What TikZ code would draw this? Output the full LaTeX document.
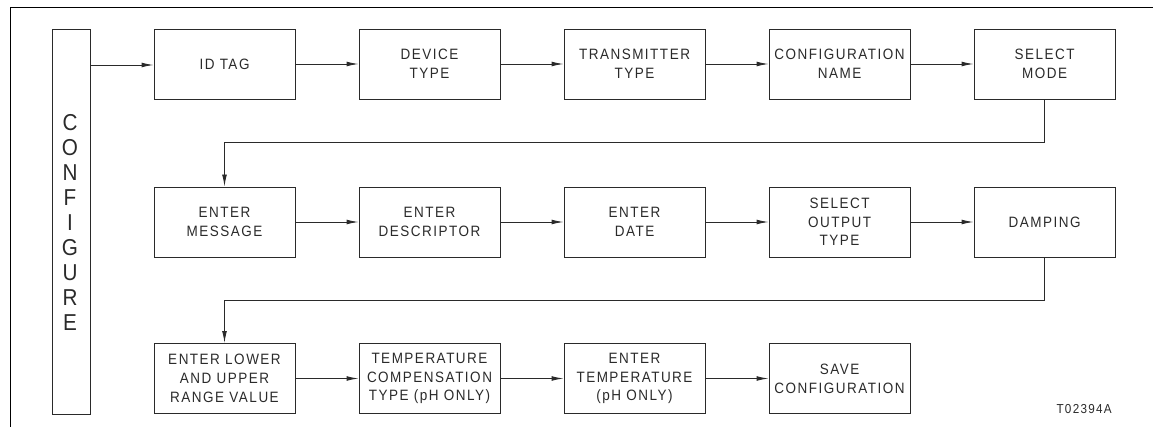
\documentclass[tikz,border=0pt]{standalone}
\usepackage{fontspec}
\setmainfont{Liberation Sans}[FakeStretch=0.9, LetterSpace=10]
\usetikzlibrary{arrows.meta}
\definecolor{ink}{HTML}{2A2A2A}
\tikzset{
  stepbox/.style={draw=ink, line width=0.9pt, rectangle, minimum width=141pt, minimum height=70pt, inner sep=0pt, align=center, text=ink, font={\fontsize{15}{18.7}\selectfont}},
  arr/.style={draw=ink, line width=0.9pt, -{Latex[length=12pt,width=4.8pt]}},
  frame/.style={draw=black, line width=1pt}
}
\begin{document}
\begin{tikzpicture}[x=1pt,y=-1pt]
\useasboundingbox (0,0) rectangle (1153,427);
\draw[frame] (10,427) -- (10,8) -- (1153,8);
% configure bar
\node[draw=ink, line width=0.9pt, minimum width=38pt, minimum height=385pt, inner sep=0pt] (cfg) at (71,221.5) {};
\node[text=ink, align=center, font={\fontsize{23}{24.9}\selectfont\addfontfeature{LetterSpace=0}}] (cfgtxt) at (70,222.5) {C\\O\\N\\F\\I\\G\\U\\R\\E};
% row 1
\node[stepbox] (id) at (224.5,64) {ID TAG};
\node[stepbox] (dev) at (429.5,64) {DEVICE\\TYPE};
\node[stepbox] (tx) at (634.5,64) {TRANSMITTER\\TYPE};
\node[stepbox] (cname) at (839.5,64) {CONFIGURATION\\NAME};
\node[stepbox] (mode) at (1044.5,64) {SELECT\\MODE};
% row 2
\node[stepbox] (msg) at (224.5,222) {ENTER\\MESSAGE};
\node[stepbox] (desc) at (429.5,222) {ENTER\\DESCRIPTOR};
\node[stepbox] (date) at (634.5,222) {ENTER\\DATE};
\node[stepbox] (out) at (839.5,222) {SELECT\\OUTPUT\\TYPE};
\node[stepbox] (damp) at (1044.5,222) {DAMPING};
% row 3
\node[stepbox] (range) at (224.5,378.5) {ENTER LOWER\\AND UPPER\\RANGE VALUE};
\node[stepbox] (tcomp) at (429.5,378.5) {TEMPERATURE\\COMPENSATION\\TYPE (pH ONLY)};
\node[stepbox] (temp) at (634.5,378.5) {ENTER\\TEMPERATURE\\(pH ONLY)};
\node[stepbox] (save) at (839.5,378.5) {SAVE\\CONFIGURATION};
\node[anchor=east, text=ink, inner sep=0pt, font={\fontsize{13}{15}\selectfont}] (fig) at (1112,409) {T02394A};
% connectors
\coordinate (c0) at (90,65);
\draw[arr] (c0) -- (c0 -| id.west);
\draw[arr] (id) -- (dev);
\draw[arr] (dev) -- (tx);
\draw[arr] (tx) -- (cname);
\draw[arr] (cname) -- (mode);
\draw[arr] (mode.south) -- ++(0,43) -| (msg.north);
\draw[arr] (msg) -- (desc);
\draw[arr] (desc) -- (date);
\draw[arr] (date) -- (out);
\draw[arr] (out) -- (damp);
\draw[arr] (damp.south) -- ++(0,43) -| (range.north);
\draw[arr] (range) -- (tcomp);
\draw[arr] (tcomp) -- (temp);
\draw[arr] (temp) -- (save);
\end{tikzpicture}
\end{document}
